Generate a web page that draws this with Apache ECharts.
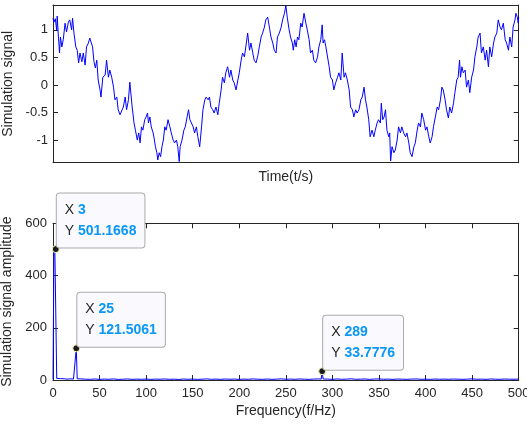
<!DOCTYPE html>
<html>
<head>
<meta charset="utf-8">
<script src="https://cdn.jsdelivr.net/npm/echarts@6/dist/echarts.min.js"></script>
<style>
  html, body { margin: 0; padding: 0; background: #ffffff; }
  #chart { width: 527px; height: 426px; }
</style>
</head>
<body>
<div id="chart"></div>
<script>
// Time-domain samples of the simulated signal (time in ms over a 1 s window)
const timeMs = [
  0,2,5,8,9,11,14,16,19,22,26,29,33,36,40,42,45,49,52,55,58,62,65,69,72,76,79,83,85,88,
  91,94,97,101,103,107,112,115,119,122,126,130,133,137,140,144,147,151,155,158,162,165,
  170,174,177,181,184,187,190,193,197,200,203,205,208,211,215,217,220,223,225,228,
  231,234,237,240,243,247,251,254,258,261,265,268,271,273,277,281,284,288,291,294,
  297,301,304,308,311,315,319,322,326,329,333,
  336,339,343,346,350,354,357,361,364,368,371,375,379,382,386,389,393,397,400,404,
  407,411,414,418,422,425,429,432,436,440,443,447,450,454,457,461,465,468,472,475,
  479,482,486,490,493,497,500,
  503,507,510,514,516,519,522,525,528,532,535,539,543,546,550,553,557,560,564,568,
  571,575,578,580,583,586,589,593,596,600,603,607,611,614,618,621,625,628,632,636,
  639,643,646,650,653,657,661,664,668,
  671,674,678,681,685,689,692,696,699,703,705,708,711,714,717,721,723,725,728,732,
  735,739,742,746,749,753,757,760,764,767,771,775,778,782,785,789,792,796,800,803,
  807,810,814,817,821,825,828,832,835,
  838,842,845,849,852,856,860,863,867,870,873,875,878,881,885,888,892,895,899,903,
  906,910,913,917,920,924,928,931,935,938,942,946,949,953,956,960,963,967,971,974,
  978,981,985,988,992,994,997,999,1000
];
const signal = [
  1.21,1.14,1.20,0.98,1.25,0.96,0.58,0.87,0.69,0.82,1.12,0.96,1.14,1.18,1.00,1.21,0.94,0.69,0.63,0.40,
  0.58,0.42,0.58,0.36,0.69,0.76,0.85,0.87,0.69,0.42,0.31,0.45,0.09,-0.09,-0.22,0.14,0.18,0.45,0.14,0.27,
  0.14,-0.04,-0.27,-0.22,-0.45,-0.54,-0.51,-0.40,-0.22,-0.45,-0.27,0.05,
  -0.40,-0.69,-0.82,-1.00,-0.87,-1.05,-0.76,-0.82,-0.63,-0.58,-0.51,-0.69,-0.58,-0.76,-0.87,-0.96,-1.12,-1.23,-1.36,-1.23,
  -1.30,-1.12,-1.00,-0.76,-0.82,-0.63,-0.76,-0.87,-1.00,-1.05,-1.00,-1.12,-1.39,-1.12,-1.00,-0.82,-0.76,-0.58,-0.45,-0.63,
  -0.60,-0.76,-0.87,-0.76,-0.94,-1.12,-0.76,-0.45,-0.27,-0.22,-0.27,
  -0.22,-0.40,-0.45,-0.51,-0.40,-0.54,-0.33,-0.09,0.14,0.04,0.22,0.33,0.14,0.27,0.09,0.04,-0.09,0.09,0.22,0.45,
  0.58,0.51,0.69,0.94,0.63,0.76,0.58,0.45,0.40,0.54,0.69,0.87,0.94,1.05,1.18,1.23,1.03,0.87,0.76,0.63,
  0.58,0.87,0.94,1.05,1.18,1.30,1.44,
  1.23,1.00,0.87,0.76,0.63,0.82,0.69,0.87,0.82,1.12,1.05,1.30,1.12,1.00,0.82,0.58,0.63,0.45,0.40,0.51,
  0.69,0.82,1.09,0.76,0.82,0.69,0.69,0.33,0.14,0.09,-0.09,0.04,0.14,0.22,0.09,0.58,0.14,0.22,0.09,-0.09,
  -0.40,-0.45,-0.58,-0.45,-0.51,-0.45,-0.27,-0.22,-0.04,
  -0.27,-0.40,-0.63,-0.94,-0.82,-0.94,-0.82,-0.69,-0.63,-0.69,-0.33,-0.63,-0.58,-0.45,-0.82,-0.94,-0.87,-1.38,-1.12,-1.23,
  -1.18,-1.00,-0.76,-0.87,-0.76,-0.87,-0.94,-0.87,-1.05,-1.23,-1.30,-1.12,-1.05,-0.82,-0.69,-0.76,-0.51,-0.63,-0.82,-0.76,
  -0.94,-1.05,-0.94,-0.76,-0.58,-0.40,-0.45,-0.27,-0.04,
  -0.09,-0.27,-0.45,-0.60,-0.40,-0.51,-0.33,-0.14,0.09,0.14,0.45,0.14,0.33,0.22,0.27,-0.04,0.09,-0.14,0.14,0.27,
  0.51,0.69,0.87,0.94,0.58,0.69,0.45,0.63,0.33,0.69,0.51,0.76,0.87,0.94,1.18,1.05,1.00,1.12,0.82,0.76,
  0.63,0.87,0.69,1.05,1.18,1.30,1.23,1.12,1.23
];

// Amplitude spectrum of the signal
const freqHz = [
  0,1,2,3,4,5,8,10,12,15,18,20,22,24,25,26,28,
  30,35,40,45,50,55,60,65,70,75,80,85,90,95,100,
  105,110,115,120,125,130,135,140,145,150,155,160,165,170,175,180,185,190,195,200,
  205,210,215,220,225,230,235,240,245,250,255,260,265,270,275,280,285,
  288,289,290,292,
  295,300,305,310,315,320,325,330,335,340,345,350,355,360,365,370,375,380,385,390,395,400,
  405,410,415,420,425,430,435,440,445,450,455,460,465,470,475,480,485,490,495,500
];
const amplitude = [
  1.8,486.0,497.3,501.1668,6.2,4.1,5.3,3.6,4.8,3.2,4.4,2.9,3.7,5.1,121.5061,4.6,3.3,
  4.2,3.1,2.6,3.8,2.4,3.5,2.8,4.1,2.2,3.0,3.9,2.5,3.3,2.7,3.6,
  2.3,3.4,2.9,4.0,2.6,3.2,2.1,3.7,2.8,3.5,2.4,3.1,4.3,2.7,3.3,2.5,3.8,2.9,3.6,2.3,
  3.4,2.8,4.1,3.0,2.5,3.7,2.6,3.2,4.4,2.9,3.5,2.7,3.9,3.1,2.4,3.6,4.2,
  3.5,33.7776,3.8,2.9,
  3.3,2.6,3.9,2.8,3.4,4.5,2.7,3.2,3.8,2.5,3.6,4.1,2.9,3.3,2.4,3.7,3.0,2.6,3.5,4.0,2.8,3.2,
  2.5,3.6,2.9,3.4,2.7,3.8,3.1,2.6,3.3,4.2,2.8,3.5,2.4,3.9,3.0,2.7,3.6,3.2,2.9,3.4
];

// Frequencies carrying a data tip
const tipFreqs = [3, 25, 289];

// Tick values
const signalTicks = [-1, -0.5, 0, 0.5, 1];
const signalRange = [-1.41, 1.45];
const freqRange = [0, 500, 50];
const ampRange = [0, 600, 200];

const FONT = '"Liberation Sans", Arial, Helvetica, sans-serif';
const INK = '#262626';
const LINE_BLUE = '#0000ff';

const signalData = timeMs.map((t, i) => [t / 1000, signal[i]]);
const spectrumData = freqHz.map((f, i) => [f, amplitude[i]]);

const tipData = tipFreqs.map(f => {
  const a = amplitude[freqHz.indexOf(f)];
  return {
    coord: [f, a],
    label: {
      formatter: '{k|X }{v|' + f + '}\n{k|Y }{v|' + a + '}'
    }
  };
});

const frameLine = { show: true, onZero: false, lineStyle: { color: INK, width: 1 } };
const tickIn = { show: true, inside: true, length: 5, lineStyle: { color: INK, width: 1 } };
const labelStyle = { color: INK, fontSize: 13, fontFamily: FONT };
const nameStyle = { color: INK, fontSize: 14, fontFamily: FONT };

const chart = echarts.init(document.getElementById('chart'), null, { renderer: 'canvas' });

chart.setOption({
  animation: false,
  backgroundColor: '#ffffff',
  grid: [
    { left: 53, top: 5, width: 465.7, height: 157.7, containLabel: false, outerBoundsMode: 'none' },
    { left: 53, top: 223.3, width: 465.7, height: 156.7, containLabel: false, outerBoundsMode: 'none' }
  ],
  xAxis: [
    {
      gridIndex: 0, type: 'value', position: 'bottom', min: 0, max: 1,
      axisLine: frameLine, axisTick: { show: false }, axisLabel: { show: false },
      splitLine: { show: false },
      name: 'Time(t/s)', nameLocation: 'middle', nameGap: 7, nameTextStyle: nameStyle
    },
    {
      gridIndex: 0, type: 'value', position: 'top', min: 0, max: 1,
      axisLine: frameLine, axisTick: { show: false }, axisLabel: { show: false },
      splitLine: { show: false }
    },
    {
      gridIndex: 1, type: 'value', position: 'bottom',
      min: freqRange[0], max: freqRange[1], interval: freqRange[2],
      axisLine: frameLine, axisTick: tickIn,
      axisLabel: Object.assign({ margin: 6.5 }, labelStyle),
      splitLine: { show: false },
      name: 'Frequency(f/Hz)', nameLocation: 'middle', nameGap: 24.5, nameTextStyle: nameStyle
    },
    {
      gridIndex: 1, type: 'value', position: 'top',
      min: freqRange[0], max: freqRange[1], interval: freqRange[2],
      axisLine: frameLine, axisTick: tickIn, axisLabel: { show: false },
      splitLine: { show: false }
    }
  ],
  yAxis: [
    {
      gridIndex: 0, type: 'value', position: 'left',
      min: signalRange[0], max: signalRange[1],
      axisLine: frameLine,
      axisTick: Object.assign({ customValues: signalTicks }, tickIn),
      axisLabel: Object.assign({ customValues: signalTicks, margin: 5 }, labelStyle),
      splitLine: { show: false },
      name: 'Simulation signal', nameLocation: 'middle', nameGap: 31, nameTextStyle: nameStyle
    },
    {
      gridIndex: 0, type: 'value', position: 'right',
      min: signalRange[0], max: signalRange[1],
      axisLine: frameLine,
      axisTick: Object.assign({ customValues: signalTicks }, tickIn),
      axisLabel: { show: false },
      splitLine: { show: false }
    },
    {
      gridIndex: 1, type: 'value', position: 'left',
      min: ampRange[0], max: ampRange[1], interval: ampRange[2],
      axisLine: frameLine, axisTick: tickIn,
      axisLabel: Object.assign({ margin: 6 }, labelStyle),
      splitLine: { show: false },
      name: 'Simulation signal amplitude', nameLocation: 'middle', nameGap: 31, nameTextStyle: nameStyle
    },
    {
      gridIndex: 1, type: 'value', position: 'right',
      min: ampRange[0], max: ampRange[1], interval: ampRange[2],
      axisLine: frameLine, axisTick: tickIn, axisLabel: { show: false },
      splitLine: { show: false }
    }
  ],
  series: [
    {
      type: 'line', xAxisIndex: 0, yAxisIndex: 0,
      data: signalData, showSymbol: false, clip: true,
      lineStyle: { color: LINE_BLUE, width: 1 }
    },
    {
      type: 'line', xAxisIndex: 2, yAxisIndex: 2,
      data: spectrumData, showSymbol: false, clip: true,
      lineStyle: { color: LINE_BLUE, width: 1 },
      markPoint: {
        symbol: 'circle', symbolSize: 7,
        itemStyle: { color: '#1a1a1a', borderColor: '#ffffc0', borderWidth: 1 },
        label: {
          show: true,
          position: [5, 2.5],
          align: 'left',
          verticalAlign: 'bottom',
          backgroundColor: '#f9f9fe',
          borderColor: '#ababab',
          borderWidth: 1,
          borderRadius: 3,
          padding: [6, 8, 6, 8],
          lineHeight: 21,
          rich: {
            k: { color: INK, fontSize: 14, fontFamily: FONT, lineHeight: 21 },
            v: { color: '#0a97f5', fontSize: 14, fontWeight: 'bold', fontFamily: FONT, lineHeight: 21 }
          }
        },
        data: tipData
      }
    }
  ]
});
</script>
</body>
</html>
